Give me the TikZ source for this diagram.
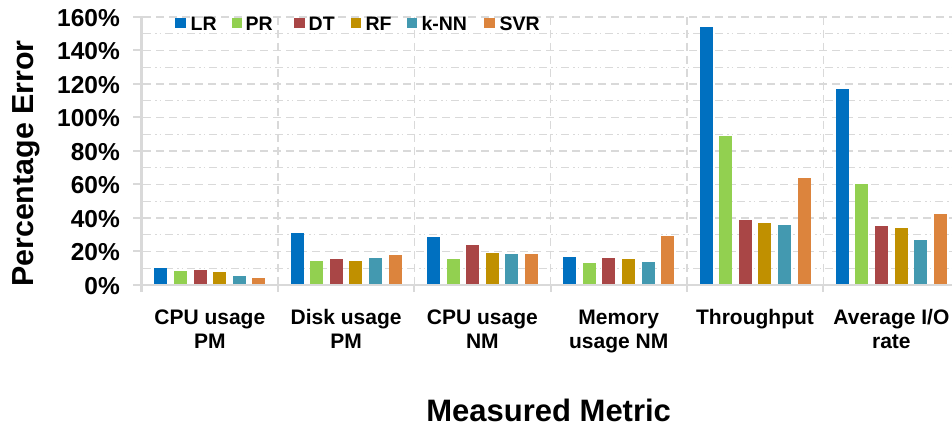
\documentclass[tikz,border=0pt]{standalone}
\usepackage{fontspec}
\setmainfont{Liberation Sans}
\definecolor{cLR}{HTML}{0070C0}
\definecolor{cPR}{HTML}{92D050}
\definecolor{cDT}{HTML}{A94646}
\definecolor{cRF}{HTML}{C09000}
\definecolor{cKNN}{HTML}{4399B0}
\definecolor{cSVR}{HTML}{DC843D}
\definecolor{gridc}{HTML}{D9D9D9}
\definecolor{axisc}{HTML}{D9D9D9}
\newcommand\mybar[3]{\fill[#3] ({#1-6.5},285) rectangle ({#1+6.5},{285-#2*1.675});}
\begin{document}
\begin{tikzpicture}[x=1pt,y=-1pt,
  majorgrid/.style={draw=gridc, line width=1.5pt, dash pattern=on 8pt off 5pt},
  minorgrid/.style={draw=gridc, line width=1.3pt, dash pattern=on 8pt off 4pt on 1.5pt off 3pt on 1.5pt off 4pt},
  vgrid/.style={draw=gridc, line width=1.3pt, dash pattern=on 8pt off 5pt},
  axisline/.style={draw=axisc, line width=2.6pt},
  ticklab/.style={inner sep=0pt, anchor=base east, font=\fontsize{24.5}{27}\selectfont\bfseries},
  catlab/.style={inner sep=0pt, anchor=base, font=\fontsize{21}{24}\selectfont\bfseries},
  legsq/.style={inner sep=0pt, minimum size=10.5pt, draw=none},
  legtxt/.style={inner sep=0pt, anchor=base west, font=\fontsize{19.5}{22}\selectfont\bfseries}]
\useasboundingbox (0,0) rectangle (952,427);
\fill[white] (0,0) rectangle (952,427);
% minor gridlines
\foreach \v in {10,30,...,150} \draw[minorgrid] (143,{285-\v*1.675}) -- (952,{285-\v*1.675});
% major gridlines
\foreach \v in {20,40,...,160} \draw[majorgrid] (143,{285-\v*1.675}) -- (952,{285-\v*1.675});
% vertical gridlines
\foreach \x in {278,414.3,550.6,686.9,823.2} {
  \draw[vgrid] (\x,17) -- (\x,285);
  \draw[axisline, line width=2pt] (\x,285) -- (\x,292);
}
% bars
\foreach \va/\vb/\vc/\vd/\ve/\vf [count=\ci] in {
  10/8.5/9/7.8/5.4/4.2,
  31/14.3/15.5/14.3/16.1/17.9,
  28.7/15.5/23.9/19.1/18.5/18.5,
  16.7/13.1/16.1/15.5/13.7/29.3,
  154/89/38.8/37/35.8/63.9,
  117/60.3/35.4/34/26.9/42.4} {
  \pgfmathsetmacro\cx{141.7+(\ci-0.5)*136.3}
  \mybar{\cx-49}{\va}{cLR}
  \mybar{\cx-29.4}{\vb}{cPR}
  \mybar{\cx-9.8}{\vc}{cDT}
  \mybar{\cx+9.8}{\vd}{cRF}
  \mybar{\cx+29.4}{\ve}{cKNN}
  \mybar{\cx+49}{\vf}{cSVR}
}
% axes
\draw[axisline] (141.7,16) -- (141.7,292);
\draw[axisline] (140.4,285) -- (952,285);
\foreach \v in {0,20,...,160} \draw[axisline, line width=2pt] (133,{285-\v*1.675}) -- (141.7,{285-\v*1.675});
% tick labels
\foreach \v in {0,20,...,160} \node[ticklab] (t\v) at (120,{285-\v*1.675+9.5}) {\v\%};
% legend
\node[legsq, fill=cLR] (sLR) at (180.5,23) {};
\node[legtxt] (lLR) at (190.5,30.5) {LR};
\node[legsq, fill=cPR] (sPR) at (237,23) {};
\node[legtxt] (lPR) at (245.5,30.5) {PR};
\node[legsq, fill=cDT] (sDT) at (299.5,23) {};
\node[legtxt] (lDT) at (308.5,30.5) {DT};
\node[legsq, fill=cRF] (sRF) at (356,23) {};
\node[legtxt] (lRF) at (365.3,30.5) {RF};
\node[legsq, fill=cKNN] (sKNN) at (412,23) {};
\node[legtxt] (lKNN) at (421.3,30.5) {k-NN};
\node[legsq, fill=cSVR] (sSVR) at (489.5,23) {};
\node[legtxt] (lSVR) at (499.3,30.5) {SVR};
% category labels
\node[catlab] (c1a) at (209.8,324) {CPU usage};
\node[catlab] (c1b) at (209.8,348) {PM};
\node[catlab] (c2a) at (346.1,324) {Disk usage};
\node[catlab] (c2b) at (346.1,348) {PM};
\node[catlab] (c3a) at (482.4,324) {CPU usage};
\node[catlab] (c3b) at (482.4,348) {NM};
\node[catlab] (c4a) at (618.7,324) {Memory};
\node[catlab] (c4b) at (618.7,348) {usage NM};
\node[catlab] (c5a) at (755,324) {Throughput};
\node[catlab] (c6a) at (891.4,324) {Average I/O};
\node[catlab] (c6b) at (891.4,348) {rate};
% axis titles
\node[inner sep=0pt, anchor=base, font=\fontsize{31}{35}\selectfont\bfseries] (xt) at (548.7,421) {Measured Metric};
\node[inner sep=0pt, anchor=base, rotate=90, font=\fontsize{30.4}{34}\selectfont\bfseries] (yt) at (33.5,163.5) {Percentage Error};
\end{tikzpicture}
\end{document}
